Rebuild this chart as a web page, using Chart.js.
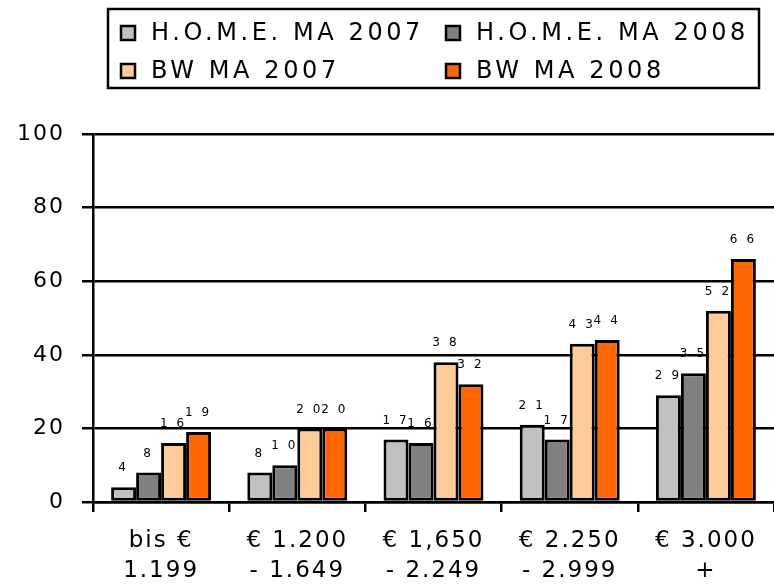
<!DOCTYPE html>
<html><head><meta charset="utf-8">
<script src="https://cdn.jsdelivr.net/npm/chart.js@4.4.0/dist/chart.umd.min.js"></script>
<style>html,body{margin:0;padding:0;background:#fff}canvas{display:block}</style>
</head><body>
<canvas id="c" width="774" height="585"></canvas>
<script>
const categories = [["bis €","1.199"],["€ 1.200","- 1.649"],["€ 1,650","- 2.249"],["€ 2.250","- 2.999"],["€ 3.000","+"]];
const seriesNames = ["H.O.M.E. MA 2007","H.O.M.E. MA 2008","BW MA 2007","BW MA 2008"];
const homeMA2007 = [4, 8, 17, 21, 29];
const homeMA2008 = [8, 10, 16, 17, 35];
const bwMA2007 = [16, 20, 38, 43, 52];
const bwMA2008 = [19, 20, 32, 44, 66];
const yTicks = [0, 20, 40, 60, 80, 100];
const colors = ["#C0C0C0","#808080","#FFCC99","#FF6600"];
const FONT = "'DejaVu Sans', sans-serif";

const spacingPlugin = {
  id: 'spacing',
  beforeUpdate(chart){ chart.ctx.letterSpacing = '2px'; },
  beforeDraw(chart){ chart.ctx.letterSpacing = '2px'; }
};

const legendPlugin = {
  id: 'customLegend',
  afterDraw(chart){
    const ctx = chart.ctx;
    ctx.save();
    ctx.lineWidth = 2.5;
    ctx.strokeStyle = '#000';
    ctx.strokeRect(108, 9, 651, 79);
    ctx.font = "24px " + FONT;
    ctx.letterSpacing = '3.6px';
    ctx.textBaseline = 'middle';
    ctx.fillStyle = '#000';
    const pos = [[121,33],[446,33],[121,71],[446,71]];
    chart.data.datasets.forEach((ds,i)=>{
      const [x,y] = pos[i];
      ctx.fillStyle = ds.backgroundColor;
      ctx.fillRect(x, y-7, 14, 14);
      ctx.strokeRect(x, y-7, 14, 14);
      ctx.fillStyle = '#000';
      ctx.fillText(ds.label, x+30, y+1);
    });
    ctx.restore();
  }
};

const labelPlugin = {
  id: 'barLabels',
  afterDatasetsDraw(chart){
    const ctx = chart.ctx;
    ctx.save();
    ctx.font = "12px " + FONT;
    ctx.letterSpacing = '9px';
    ctx.fillStyle = '#000';
    ctx.textAlign = 'center';
    ctx.textBaseline = 'middle';
    chart.data.datasets.forEach((ds,di)=>{
      const meta = chart.getDatasetMeta(di);
      meta.data.forEach((bar,i)=>{
        ctx.fillText(String(ds.data[i]), bar.x + 3, bar.y - 19);
      });
    });
    ctx.restore();
  }
};

const dataSets = [homeMA2007, homeMA2008, bwMA2007, bwMA2008];
new Chart(document.getElementById('c'), {
  type: 'bar',
  data: {
    labels: categories,
    datasets: dataSets.map((d,i)=>({
      label: seriesNames[i],
      data: d,
      backgroundColor: colors[i],
      borderColor: '#000',
      borderWidth: 3,
      borderSkipped: false
    }))
  },
  options: {
    responsive: false,
    animation: false,
    devicePixelRatio: 1,
    categoryPercentage: 0.734,
    barPercentage: 1,
    layout: { padding: { top: 134, right: 0, left: 0, bottom: 0 } },
    plugins: { legend: { display: false }, tooltip: { enabled: false } },
    scales: {
      x: {
        grid: { drawOnChartArea: false, drawTicks: true, tickLength: 10, color: '#000', lineWidth: 2.5, offset: true },
        border: { display: true, color: '#000', width: 2.5 },
        ticks: { color: '#000', font: { family: FONT, size: 23, lineHeight: 1.3 }, padding: 14, maxRotation: 0, autoSkip: false },
        afterFit(s){ s.height = 83; }
      },
      y: {
        min: 0, max: 100,
        afterBuildTicks(s){ s.ticks = yTicks.map(v=>({value:v})); },
        grid: { color: '#000', lineWidth: 2.5, tickLength: 11, drawTicks: true },
        border: { display: true, color: '#000', width: 2.5 },
        ticks: { color: '#000', font: { family: FONT, size: 22 }, padding: 17 },
        afterFit(s){ s.width = 93; }
      }
    }
  },
  plugins: [spacingPlugin, labelPlugin, legendPlugin]
});
</script>
</body></html>
